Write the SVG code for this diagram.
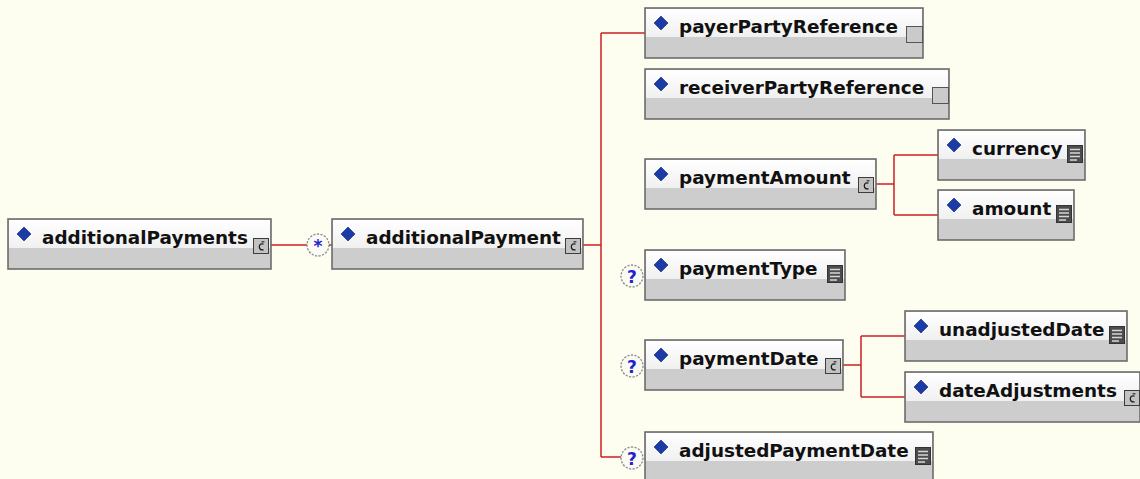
<svg xmlns="http://www.w3.org/2000/svg" width="1140" height="479" viewBox="0 0 1140 479">
<style>
.bg{fill:#fefef0}
.box{fill:#cdcdcd;stroke:#6c6c6c;stroke-width:1.6}
.hd{fill:url(#hdg)}
.dia{fill:#1b3ca6;stroke:#0d2270;stroke-width:0.6}
.lbl{font-family:"DejaVu Sans",Verdana,sans-serif;font-weight:bold;font-size:18.4px;fill:#111}
.con{fill:none;stroke:#cc2020;stroke-width:1.5}
.occ{fill:#fbfbf6;stroke:#8a8a8a;stroke-width:1.3;stroke-dasharray:2.2 1.4}
.occt{font-family:"DejaVu Sans",Verdana,sans-serif;font-weight:bold;fill:#2323c8;text-anchor:middle}
</style>
<defs>
<linearGradient id="hdg" x1="0" y1="0" x2="0" y2="1">
<stop offset="0" stop-color="#ffffff"/>
<stop offset="1" stop-color="#f0f0f0"/>
</linearGradient>
<symbol id="iconC" overflow="visible">
<rect x="0.5" y="0.5" width="15" height="15" fill="#c2c2c2" stroke="#3c3c3c" stroke-width="1"/>
<path d="M10.5,6.2 Q6.5,5 6.3,8.8 Q6.3,12.4 10.6,11.8" fill="none" stroke="#1a1a1a" stroke-width="1.3"/>
<path d="M8.6,3.8 L11.4,3.8" fill="none" stroke="#1a1a1a" stroke-width="1.1"/>
</symbol>
<symbol id="iconS" overflow="visible">
<rect x="0.5" y="0.5" width="15" height="17" fill="#4c4c4c" stroke="#333" stroke-width="1"/>
<path d="M3,4.5 H13 M3,8 H13 M3,11.5 H13 M3,15 H10" fill="none" stroke="#d6d6d6" stroke-width="1.4"/>
</symbol>
<symbol id="iconE" overflow="visible">
<rect x="0.5" y="0.5" width="16" height="16" fill="#cacaca" stroke="#555" stroke-width="1"/>
</symbol>
<polygon id="diam" class="dia" points="0,-7 7,0 0,7 -7,0"/>
</defs>
<rect class="bg" x="0" y="0" width="1140" height="479"/>

<g id="connectors">
<path class="con" d="M271,245 H307 M329,245 H332"/>
<path class="con" d="M583,245 H601 M601,33 V457 M601,33 H645 M601,457 H621"/>
<path class="con" d="M876,184 H894 M894,155 V215 M894,155 H938 M894,215 H938"/>
<path class="con" d="M843,365 H861 M861,336 V397 M861,336 H905 M861,397 H905"/>
<circle class="occ" cx="318" cy="245" r="11"/>
<text class="occt" x="318" y="252" font-size="17">*</text>
<circle class="occ" cx="632" cy="276" r="11"/>
<text class="occt" x="632" y="282.5" font-size="17">?</text>
<circle class="occ" cx="632" cy="366" r="11"/>
<text class="occt" x="632" y="372.5" font-size="17">?</text>
<circle class="occ" cx="632" cy="458" r="11"/>
<text class="occt" x="632" y="464.5" font-size="17">?</text>
</g>

<g id="n-additionalPayments" transform="translate(8,219)">
<rect class="box" x="0" y="0" width="263" height="50"/>
<rect class="hd" x="1" y="1" width="261" height="28"/>
<use href="#diam" x="16" y="15"/>
<text class="lbl" x="34" y="25">additionalPayments</text>
<use href="#iconC" x="245" y="19"/>
</g>

<g id="n-additionalPayment" transform="translate(332,219)">
<rect class="box" x="0" y="0" width="251" height="50"/>
<rect class="hd" x="1" y="1" width="249" height="28"/>
<use href="#diam" x="16" y="15"/>
<text class="lbl" x="34" y="25">additionalPayment</text>
<use href="#iconC" x="233" y="19"/>
</g>

<g id="n-payerPartyReference" transform="translate(645,8)">
<rect class="box" x="0" y="0" width="278" height="50"/>
<rect class="hd" x="1" y="1" width="276" height="28"/>
<use href="#diam" x="16" y="15"/>
<text class="lbl" x="34" y="25">payerPartyReference</text>
<use href="#iconE" x="261" y="18"/>
</g>

<g id="n-receiverPartyReference" transform="translate(645,69)">
<rect class="box" x="0" y="0" width="304" height="50"/>
<rect class="hd" x="1" y="1" width="302" height="28"/>
<use href="#diam" x="16" y="15"/>
<text class="lbl" x="34" y="25">receiverPartyReference</text>
<use href="#iconE" x="287" y="18"/>
</g>

<g id="n-paymentAmount" transform="translate(645,159)">
<rect class="box" x="0" y="0" width="231" height="50"/>
<rect class="hd" x="1" y="1" width="229" height="28"/>
<use href="#diam" x="16" y="15"/>
<text class="lbl" x="34" y="25">paymentAmount</text>
<use href="#iconC" x="213" y="18"/>
</g>

<g id="n-currency" transform="translate(938,130)">
<rect class="box" x="0" y="0" width="147" height="50"/>
<rect class="hd" x="1" y="1" width="145" height="28"/>
<use href="#diam" x="16" y="15"/>
<text class="lbl" x="34" y="25">currency</text>
<use href="#iconS" x="129" y="15"/>
</g>

<g id="n-amount" transform="translate(938,190)">
<rect class="box" x="0" y="0" width="136" height="50"/>
<rect class="hd" x="1" y="1" width="134" height="28"/>
<use href="#diam" x="16" y="15"/>
<text class="lbl" x="34" y="25">amount</text>
<use href="#iconS" x="118" y="15"/>
</g>

<g id="n-paymentType" transform="translate(645,250)">
<rect class="box" x="0" y="0" width="200" height="50"/>
<rect class="hd" x="1" y="1" width="198" height="28"/>
<use href="#diam" x="16" y="15"/>
<text class="lbl" x="34" y="25">paymentType</text>
<use href="#iconS" x="182" y="15"/>
</g>

<g id="n-paymentDate" transform="translate(645,340)">
<rect class="box" x="0" y="0" width="198" height="50"/>
<rect class="hd" x="1" y="1" width="196" height="28"/>
<use href="#diam" x="16" y="15"/>
<text class="lbl" x="34" y="25">paymentDate</text>
<use href="#iconC" x="180" y="18"/>
</g>

<g id="n-unadjustedDate" transform="translate(905,311)">
<rect class="box" x="0" y="0" width="222" height="50"/>
<rect class="hd" x="1" y="1" width="220" height="28"/>
<use href="#diam" x="16" y="15"/>
<text class="lbl" x="34" y="25">unadjustedDate</text>
<use href="#iconS" x="204" y="15"/>
</g>

<g id="n-dateAdjustments" transform="translate(905,372)">
<rect class="box" x="0" y="0" width="235" height="50"/>
<rect class="hd" x="1" y="1" width="233" height="28"/>
<use href="#diam" x="16" y="15"/>
<text class="lbl" x="34" y="25">dateAdjustments</text>
<use href="#iconC" x="219" y="18"/>
</g>

<g id="n-adjustedPaymentDate" transform="translate(645,432)">
<rect class="box" x="0" y="0" width="288" height="50"/>
<rect class="hd" x="1" y="1" width="286" height="28"/>
<use href="#diam" x="16" y="15"/>
<text class="lbl" x="34" y="25">adjustedPaymentDate</text>
<use href="#iconS" x="270" y="15"/>
</g>
</svg>
